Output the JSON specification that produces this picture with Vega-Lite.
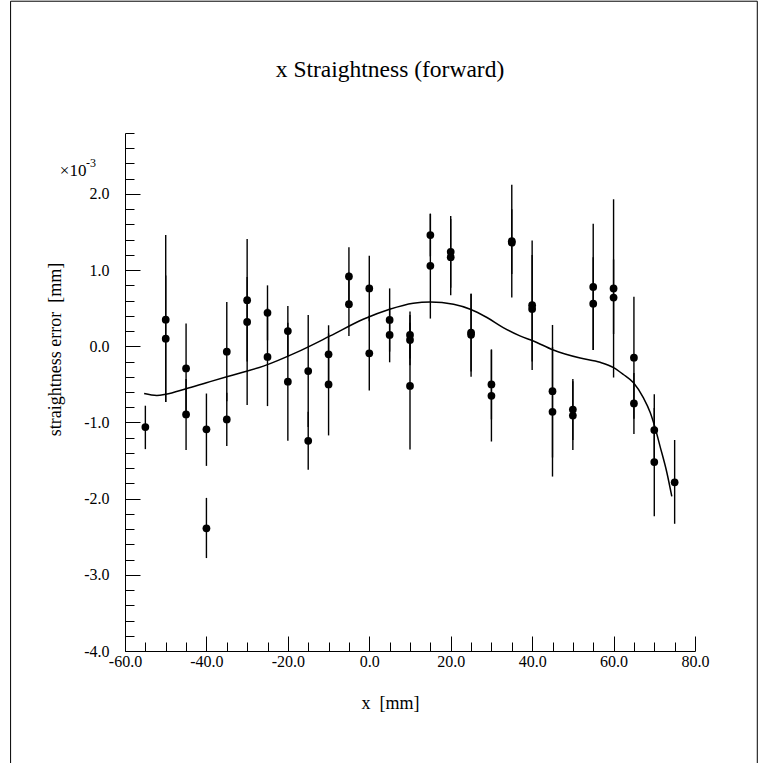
{
  "$schema": "https://vega.github.io/schema/vega-lite/v6.json",
  "width": 570,
  "height": 518,
  "autosize": {"type": "none"},
  "padding": {"left": 125, "top": 133, "right": 64, "bottom": 112},
  "background": "white",
  "config": {
    "view": {"stroke": null},
    "font": "Liberation Serif"
  },
  "title": {
    "text": "x Straightness (forward)",
    "font": "Liberation Serif",
    "fontSize": 23.5,
    "fontWeight": "normal",
    "color": "black",
    "anchor": "middle",
    "dx": -20,
    "baseline": "alphabetic",
    "offset": -100
  },
  "datasets": {
    "points": [
      {"x": -55, "y": -1.06, "lo": -1.35, "hi": -0.78},
      {"x": -50, "y": 0.35, "lo": -0.73, "hi": 1.46},
      {"x": -50, "y": 0.10, "lo": -0.73, "hi": 0.93},
      {"x": -45, "y": -0.29, "lo": -0.88, "hi": 0.30},
      {"x": -45, "y": -0.895, "lo": -1.36, "hi": -0.43},
      {"x": -40, "y": -1.09, "lo": -1.57, "hi": -0.62},
      {"x": -40, "y": -2.39, "lo": -2.78, "hi": -1.99},
      {"x": -35, "y": -0.07, "lo": -0.72, "hi": 0.58},
      {"x": -35, "y": -0.96, "lo": -1.31, "hi": -0.61},
      {"x": -30, "y": 0.605, "lo": -0.2, "hi": 1.41},
      {"x": -30, "y": 0.32, "lo": -0.77, "hi": 0.91},
      {"x": -25, "y": 0.44, "lo": 0.08, "hi": 0.80},
      {"x": -25, "y": -0.14, "lo": -0.785, "hi": 0.505},
      {"x": -20, "y": 0.20, "lo": -0.13, "hi": 0.53},
      {"x": -20, "y": -0.465, "lo": -1.24, "hi": 0.31},
      {"x": -15, "y": -0.325, "lo": -1.06, "hi": 0.41},
      {"x": -15, "y": -1.24, "lo": -1.62, "hi": -0.86},
      {"x": -10, "y": -0.105, "lo": -0.49, "hi": 0.276},
      {"x": -10, "y": -0.5, "lo": -1.17, "hi": 0.17},
      {"x": -5, "y": 0.917, "lo": 0.53, "hi": 1.30},
      {"x": -5, "y": 0.553, "lo": 0.136, "hi": 0.97},
      {"x": 0, "y": 0.76, "lo": 0.33, "hi": 1.19},
      {"x": 0, "y": -0.092, "lo": -0.58, "hi": 0.40},
      {"x": 5, "y": 0.346, "lo": -0.07, "hi": 0.76},
      {"x": 5, "y": 0.149, "lo": -0.21, "hi": 0.51},
      {"x": 10, "y": 0.149, "lo": -0.16, "hi": 0.457},
      {"x": 10, "y": 0.083, "lo": -0.25, "hi": 0.41},
      {"x": 10, "y": -0.52, "lo": -1.355, "hi": 0.31},
      {"x": 15, "y": 1.46, "lo": 1.18, "hi": 1.74},
      {"x": 15, "y": 1.057, "lo": 0.364, "hi": 1.74},
      {"x": 20, "y": 1.24, "lo": 0.77, "hi": 1.71},
      {"x": 20, "y": 1.17, "lo": 0.67, "hi": 1.67},
      {"x": 25, "y": 0.18, "lo": -0.33, "hi": 0.69},
      {"x": 25, "y": 0.15, "lo": -0.4, "hi": 0.69},
      {"x": 30, "y": -0.5, "lo": -0.96, "hi": -0.04},
      {"x": 30, "y": -0.65, "lo": -1.25, "hi": -0.05},
      {"x": 35, "y": 1.38, "lo": 0.64, "hi": 2.12},
      {"x": 35, "y": 1.36, "lo": 0.95, "hi": 1.8},
      {"x": 40, "y": 0.54, "lo": -0.31, "hi": 1.39},
      {"x": 40, "y": 0.49, "lo": -0.2, "hi": 1.2},
      {"x": 45, "y": -0.59, "lo": -1.46, "hi": 0.28},
      {"x": 45, "y": -0.86, "lo": -1.71, "hi": -0.01},
      {"x": 50, "y": -0.83, "lo": -1.23, "hi": -0.43},
      {"x": 50, "y": -0.91, "lo": -1.36, "hi": -0.46},
      {"x": 55, "y": 0.78, "lo": -0.05, "hi": 1.61},
      {"x": 55, "y": 0.56, "lo": -0.05, "hi": 1.17},
      {"x": 60, "y": 0.76, "lo": -0.41, "hi": 1.93},
      {"x": 60, "y": 0.64, "lo": 0.16, "hi": 1.14},
      {"x": 65, "y": -0.15, "lo": -0.95, "hi": 0.65},
      {"x": 65, "y": -0.75, "lo": -1.15, "hi": -0.35},
      {"x": 70, "y": -1.10, "lo": -1.57, "hi": -0.63},
      {"x": 70, "y": -1.52, "lo": -2.23, "hi": -0.81},
      {"x": 75, "y": -1.785, "lo": -2.33, "hi": -1.23}
    ],
    "curve": [
      {"x": -55.3, "y": -0.62},
      {"x": -52.2, "y": -0.645},
      {"x": -50, "y": -0.63},
      {"x": -45, "y": -0.557},
      {"x": -40, "y": -0.478},
      {"x": -35, "y": -0.40},
      {"x": -31.7, "y": -0.35},
      {"x": -26, "y": -0.26},
      {"x": -18, "y": -0.083},
      {"x": -9.6, "y": 0.136},
      {"x": -1.5, "y": 0.355},
      {"x": 5, "y": 0.487},
      {"x": 10.8, "y": 0.566},
      {"x": 15, "y": 0.583},
      {"x": 20.7, "y": 0.553},
      {"x": 24.8, "y": 0.487},
      {"x": 28.9, "y": 0.378},
      {"x": 32.9, "y": 0.246},
      {"x": 37, "y": 0.136},
      {"x": 40.3, "y": 0.07},
      {"x": 45.2, "y": -0.049},
      {"x": 51.8, "y": -0.155},
      {"x": 56.7, "y": -0.21},
      {"x": 60, "y": -0.28},
      {"x": 62.4, "y": -0.37},
      {"x": 64.9, "y": -0.48},
      {"x": 67.3, "y": -0.675},
      {"x": 69, "y": -0.87},
      {"x": 70.2, "y": -1.07},
      {"x": 71.4, "y": -1.31},
      {"x": 73.1, "y": -1.66},
      {"x": 74.3, "y": -1.97}
    ]
  },
  "layer": [
    {
      "data": {"name": "points"},
      "mark": {"type": "rule", "color": "black", "strokeWidth": 1.4},
      "encoding": {
        "x": {
          "field": "x",
          "type": "quantitative",
          "scale": {"domain": [-60, 80], "nice": false, "zero": false},
          "axis": {
            "title": "x \u00a0[mm]",
            "titleFont": "Liberation Serif",
            "titleFontSize": 18,
            "titleFontWeight": "normal",
            "titleColor": "black",
            "titleX": 265,
            "titleY": 52,
            "titleAlign": "center",
            "titleBaseline": "middle",
            "values": [-60, -55, -50, -45, -40, -35, -30, -25, -20, -15, -10, -5, 0, 5, 10, 15, 20, 25, 30, 35, 40, 45, 50, 55, 60, 65, 70, 75, 80],
            "tickCount": 200,
            "labelExpr": "datum.value % 20 == 0 ? (datum.value < 0 ? '-' : '') + format(abs(datum.value), '.1f') : ''",
            "labelFont": "Liberation Serif",
            "labelFontSize": 16,
            "labelColor": "black",
            "labelAlign": "center",
            "labelBaseline": "top",
            "labelPadding": 17,
            "labelFlush": false,
            "labelOverlap": false,
            "labelBound": false,
            "grid": false,
            "domainColor": "black",
            "domainWidth": 1,
            "tickColor": "black",
            "tickWidth": 1,
            "tickSize": -15,
            "tickDash": {"condition": {"test": "datum.value % 20 == 0", "value": [20, 1]}, "value": [9, 30]}
          }
        },
        "y": {
          "field": "lo",
          "type": "quantitative",
          "scale": {"domain": [-4, 2.8], "nice": false, "zero": false},
          "axis": {
            "title": "straightness error \u00a0[mm]",
            "titleFont": "Liberation Serif",
            "titleFontSize": 18,
            "titleFontWeight": "normal",
            "titleColor": "black",
            "titleAngle": -90,
            "titleX": -70,
            "titleY": 216,
            "titleAlign": "center",
            "titleBaseline": "middle",
            "values": [-4, -3.8, -3.6, -3.4, -3.2, -3, -2.8, -2.6, -2.4, -2.2, -2, -1.8, -1.6, -1.4, -1.2, -1, -0.8, -0.6, -0.4, -0.2, 0, 0.2, 0.4, 0.6, 0.8, 1, 1.2, 1.4, 1.6, 1.8, 2, 2.2, 2.4, 2.6, 2.8],
            "tickCount": 200,
            "labelExpr": "abs(datum.value - round(datum.value)) < 0.01 ? (datum.value < -0.01 ? '-' : '') + format(abs(datum.value), '.1f') : ''",
            "labelFont": "Liberation Serif",
            "labelFontSize": 16,
            "labelColor": "black",
            "labelAlign": "right",
            "labelBaseline": "middle",
            "labelPadding": 31,
            "labelFlush": false,
            "labelOverlap": false,
            "labelBound": false,
            "grid": false,
            "domainColor": "black",
            "domainWidth": 1,
            "tickColor": "black",
            "tickWidth": 1,
            "tickSize": -15,
            "tickDash": {"condition": {"test": "abs(datum.value - round(datum.value)) < 0.01", "value": [20, 1]}, "value": [9, 30]}
          }
        },
        "y2": {"field": "hi"}
      }
    },
    {
      "data": {"name": "points"},
      "mark": {"type": "point", "filled": true, "color": "black", "size": 60, "opacity": 1},
      "encoding": {
        "x": {"field": "x", "type": "quantitative"},
        "y": {"field": "y", "type": "quantitative"}
      }
    },
    {
      "data": {"name": "curve"},
      "mark": {"type": "line", "color": "black", "strokeWidth": 1.5, "interpolate": "monotone"},
      "encoding": {
        "x": {"field": "x", "type": "quantitative"},
        "y": {"field": "y", "type": "quantitative"}
      }
    },
    {
      "data": {"values": [{}]},
      "mark": {"type": "text", "text": "×10", "font": "Liberation Serif", "fontSize": 17, "align": "left", "baseline": "middle", "color": "black", "clip": false},
      "encoding": {
        "x": {"datum": -76},
        "y": {"datum": 2.3}
      }
    },
    {
      "data": {"values": [{}]},
      "mark": {"type": "text", "text": "-3", "font": "Liberation Serif", "fontSize": 12, "align": "left", "baseline": "middle", "color": "black", "clip": false},
      "encoding": {
        "x": {"datum": -69.6},
        "y": {"datum": 2.4}
      }
    },
    {
      "data": {"values": [{}]},
      "mark": {"type": "rect", "fill": null, "stroke": "black", "strokeWidth": 1, "clip": false},
      "encoding": {
        "x": {"datum": -88.1},
        "x2": {"datum": 95.3},
        "y": {"datum": 4.53},
        "y2": {"datum": -5.5}
      }
    }
  ]
}
